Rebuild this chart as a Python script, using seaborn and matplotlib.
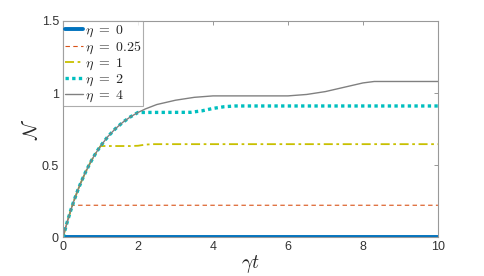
import numpy as np
import pandas as pd
import seaborn as sns
import matplotlib.pyplot as plt

# shared rise
t_rise = [0, 0.1, 0.2, 0.25, 0.3, 0.4, 0.5, 0.6, 0.7, 0.8, 0.9, 1.0,
          1.2, 1.4, 1.6, 1.8, 2.0]
n_rise = [0, 0.095, 0.181, 0.221, 0.259, 0.33, 0.393, 0.451, 0.503, 0.551,
          0.593, 0.632, 0.699, 0.753, 0.798, 0.835, 0.865]

t_eta0 = [0, 10]
n_eta0 = [0, 0]

t_eta025 = [0, 0.1, 0.2, 0.25, 10]
n_eta025 = [0, 0.095, 0.181, 0.221, 0.221]

t_eta1 = t_rise[:12] + [1.8, 2.0, 2.2, 2.4, 10]
n_eta1 = n_rise[:12] + [0.632, 0.634, 0.642, 0.645, 0.645]

t_eta2 = t_rise[:16] + [2.0, 3.4, 3.7, 4.0, 4.3, 4.6, 10]
n_eta2 = n_rise[:16] + [0.865, 0.866, 0.876, 0.893, 0.905, 0.91, 0.91]

t_eta4 = t_rise + [2.2, 2.5, 3.0, 3.5, 4.0, 6.0, 6.5, 7.0, 7.5, 8.0, 8.3, 10]
n_eta4 = n_rise + [0.89, 0.92, 0.95, 0.97, 0.98, 0.98, 0.99, 1.01, 1.04,
                   1.07, 1.08, 1.08]

labels = [r"$\eta\ =\ 0$", r"$\eta\ =\ 0.25$", r"$\eta\ =\ 1$",
          r"$\eta\ =\ 2$", r"$\eta\ =\ 4$"]

sns.set_style("white")
plt.rcParams["font.family"] = ["Liberation Sans", "DejaVu Sans"]
plt.rcParams["mathtext.fontset"] = "cm"

fig = plt.figure(figsize=(4.85, 2.76), dpi=100)
ax = fig.add_axes([0.13, 0.141, 0.773, 0.783])

series = [
    (t_eta0, n_eta0, "#0072BD", "-", 2.8),
    (t_eta025, n_eta025, "#D95319", (0, (4, 3)), 0.8),
    (t_eta1, n_eta1, "#C8C000", (0, (5, 2, 1.5, 2)), 1.3),
    (t_eta2, n_eta2, "#00BFBF", (0, (1, 1)), 2.4),
    (t_eta4, n_eta4, "#808080", "-", 1.0),
]
for (t, n, c, ls, lw), lab in zip(series, labels):
    df = pd.DataFrame({"t": t, "N": n})
    sns.lineplot(data=df, x="t", y="N", ax=ax, color=c, linestyle=ls,
                 linewidth=lw, label=lab)

ax.set_xlim(0, 10)
ax.set_ylim(0, 1.5)
ax.set_xticks([0, 2, 4, 6, 8, 10])
ax.set_yticks([0, 0.5, 1, 1.5])
ax.set_yticklabels(["0", "0.5", "1", "1.5"])
ax.tick_params(direction="in", length=3, width=0.6, color="#888888",
               labelsize=9, top=True, right=True, pad=3, labelcolor="#333333")
for s in ax.spines.values():
    s.set_color("#999999")
    s.set_linewidth(0.8)
ax.set_xlabel(r"$\gamma t$", fontsize=14, labelpad=0)
ax.set_ylabel(r"$\mathcal{N}$", fontsize=14)
ax.yaxis.set_label_coords(-0.058, 0.5)

leg = ax.legend(loc="upper left", fontsize=10, handlelength=1.3,
                handletextpad=0.1, borderpad=0.15, labelspacing=0.0,
                borderaxespad=0.0, frameon=True, fancybox=False)
leg.get_frame().set_edgecolor("#999999")
leg.get_frame().set_linewidth(0.8)

fig.savefig("out.png", dpi=100)
